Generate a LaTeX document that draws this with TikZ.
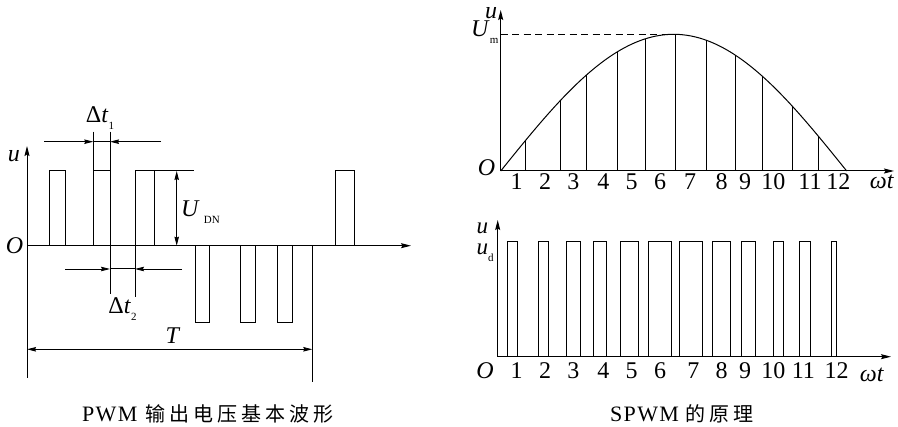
\documentclass[tikz,border=0pt]{standalone}
\usepackage{fontspec}
\setmainfont{Liberation Serif}
\newfontfamily\cjk[LetterSpace=20]{Noto Sans CJK SC}
\newfontfamily\capfont[LetterSpace=6]{Liberation Serif}
\usetikzlibrary{arrows.meta}
\newcommand\sbs[1]{\raisebox{-0.3em}{\fontsize{11}{11}\selectfont #1}}
\tikzset{
 ax/.style={line width=1pt,-{Stealth[length=10pt,width=5pt,inset=1.5pt]}},
 ln/.style={line width=1pt},
 arr/.style={line width=0.9pt,-{Stealth[length=9pt,width=4.5pt,inset=1pt]}},
 darr/.style={line width=0.9pt,{Stealth[length=9pt,width=4.5pt,inset=1pt]}-{Stealth[length=9pt,width=4.5pt,inset=1pt]}},
 lab/.style={font=\fontsize{24}{24}\selectfont, inner sep=0pt},
 capl/.style={font=\fontsize{22}{22}\selectfont\capfont, inner sep=0pt, anchor=base west},
 capc/.style={font=\fontsize{20}{20}\selectfont\cjk, inner sep=0pt, anchor=base west},
}
\begin{document}
\begin{tikzpicture}[x=1pt,y=-1pt]
\useasboundingbox (0,0) rectangle (898,427);
% ---------------- left panel ----------------
\coordinate (LO) at (27,245.7);
\coordinate (LYtop) at (27,146);
\coordinate (LYbot) at (27,378);
\coordinate (LXend) at (411,245.7);
\draw[ax] (LYbot) -- (LYtop);
\draw[ax] (LO) -- (LXend);
% positive pulses
\foreach \a/\b in {49/65, 93.3/110, 135/154, 335.7/354.3}
  \draw[ln] (\a,245.7) rectangle (\b,171);
% negative pulses
\foreach \a/\b in {195/209.3, 240/255, 277.7/292.3}
  \draw[ln] (\a,245.7) rectangle (\b,322.7);
% delta t1
\draw[ln] (93.3,131.7) -- (93.3,171);
\draw[ln] (110,131.7) -- (110,294);
\draw[arr] (44.3,141.7) -- (93.3,141.7);
\draw[arr] (161,141.7) -- (110,141.7);
\draw[ln] (93.3,141.7) -- (110,141.7);
\node[lab] (dt1) at (100,118) {Δ\textit{t}\sbs{1}};
% delta t2
\draw[ln] (135,245.7) -- (135,296.7);
\draw[arr] (65,269) -- (110,269);
\draw[arr] (182,269) -- (135,269);
\draw[ln] (110,269) -- (135,269);
\node[lab] (dt2) at (122.5,309) {Δ\textit{t}\sbs{2}};
% U_DN
\draw[ln] (154,171) -- (194,171);
\draw[darr] (176.7,171) -- (176.7,245.7);
\node[lab,anchor=west] (udn) at (181,212) {\textit{U}\,\sbs{DN}};
% T
\draw[ln] (312.3,245.7) -- (312.3,381.7);
\draw[darr] (27,349.3) -- (312.3,349.3);
\node[lab] (T) at (173,336) {\textit{T}};
\node[lab] (lu) at (14,156) {\textit{u}};
\node[lab] (lO) at (14.5,245.7) {\textit{O}};
\node[capl] (cap1a) at (82,422) {PWM};
\node[capc] (cap1b) at (145,422) {输出电压基本波形};
% ---------------- right top ----------------
\coordinate (RO) at (500.7,171);
\draw[ax] (RO) -- (500.7,10);
\draw[ax] (RO) -- (894,171);
\draw[ln] plot[domain=0:180,samples=90] ({500.7+\x*1.92222},{171-136.7*sin(\x)});
\draw[ln,dash pattern=on 7pt off 4.5pt] (500.7,34.3) -- (673.7,34.3);
\foreach \x in {525.7,560,586.7,617.3,645.7,675,706,735.3,762,792,818.3}
  \draw[ln] (\x,171) -- (\x,{171-136.7*sin((\x-500.7)/346*180)});
\foreach \n/\x in {1/516.7,2/545,3/573.3,4/603.3,5/631.7,6/660,7/690,8/721.7,9/745,10/773.3,11/810,12/838.3}
  \node[lab] (ta\n) at (\x,182) {\n};
\node[lab] (wta) at (882,182) {\textit{ωt}};
\node[lab] (ua) at (491,13) {\textit{u}};
\node[lab,anchor=west] (Um) at (471,32) {\textit{U}\sbs{m}};
\node[lab] (Oa) at (486.5,167.5) {\textit{O}};
% ---------------- right bottom ----------------
\coordinate (RO2) at (497.7,356.7);
\draw[ax] (RO2) -- (497.7,220);
\draw[ax] (RO2) -- (891,356.7);
\foreach \a/\b in {507.7/517.7,538.3/548.3,566/580.7,593.3/606.7,620/638.3,648.3/671,679.3/702,712.3/730,741/755.7,773.3/783.3,799.3/810,831/836.7}
  \draw[ln] (\a,356.7) rectangle (\b,241.7);
\foreach \n/\x in {1/516.7,2/545,3/573.3,4/603.3,5/631.7,6/660,7/693.3,8/721.7,9/745,10/773.3,11/803.3,12/836.7}
  \node[lab] (tb\n) at (\x,370.5) {\n};
\node[lab] (wtb) at (872,375) {\textit{ωt}};
\node[lab,font=\fontsize{23}{21}\selectfont,align=left,anchor=base west] (uud) at (476.5,255) {\textit{u}\\\textit{u}\sbs{d}};
\node[lab] (Ob) at (485,370.5) {\textit{O}};
\node[capl] (cap2a) at (610,422) {SPWM};
\node[capc] (cap2b) at (685,422) {的原理};
\end{tikzpicture}
\end{document}
